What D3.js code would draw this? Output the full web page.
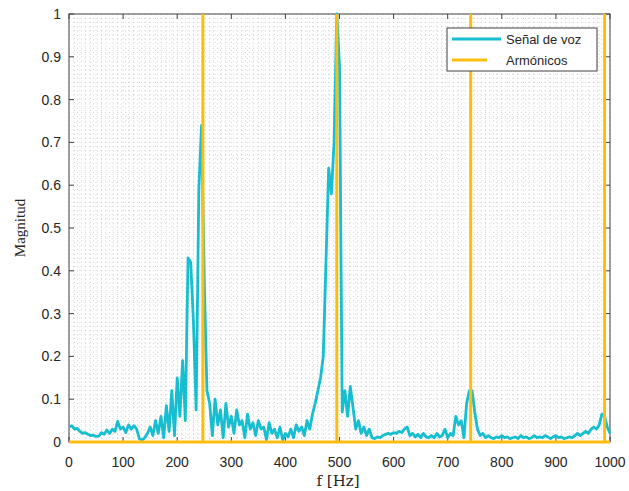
<!DOCTYPE html>
<html>
<head>
<meta charset="utf-8">
<script src="https://cdn.jsdelivr.net/npm/d3@7"></script>
<style>
  body { margin: 0; background: #fff; }
  text { font-family: "Liberation Sans", Arial, sans-serif; }
</style>
</head>
<body>
<div id="viz"></div>
<script>
// spectrum, sampled every 5 Hz from 0 to 1000 Hz
var freqStep = 5
var mag = [
  .035,.038,.03,.032,.025,.02,.022,.018,.015,.016,
  .013,.014,.022,.018,.028,.02,.03,.025,.048,.03,
  .035,.022,.04,.03,.038,.03,.008,.004,.01,.02,
  .035,.015,.05,.02,.06,.01,.085,.025,.12,.015,
  .15,.06,.19,.05,.43,.42,.28,.075,.59,.74,
  .38,.12,.09,.015,.1,.04,.075,.01,.09,.035,
  .06,.02,.075,.04,.05,.01,.065,.03,.045,.015,
  .05,.03,.035,.005,.045,.02,.03,.01,.035,.005,
  .02,.012,.03,.01,.04,.025,.035,.015,.05,.03,
  .065,.09,.12,.15,.2,.42,.64,.58,.7,1.0,
  .88,.07,.12,.06,.13,.08,.03,.05,.02,.035,
  .015,.03,.01,.008,.012,.01,.015,.018,.02,.018,
  .022,.02,.025,.022,.03,.035,.015,.02,.012,.018,
  .01,.02,.012,.01,.015,.01,.02,.012,.015,.03,
  .01,.02,.015,.06,.04,.05,.01,.09,.12,.12,
  .07,.03,.015,.02,.01,.015,.01,.008,.012,.01,
  .015,.01,.012,.008,.01,.012,.008,.015,.01,.012,
  .008,.01,.015,.01,.012,.01,.015,.012,.008,.012,
  .015,.01,.012,.008,.01,.012,.01,.015,.02,.015,
  .02,.025,.02,.03,.035,.03,.04,.065,.06,.035,
  .02
]
// harmonic frequencies (Hz)
var harmonics = [247.5, 495, 742.5, 990]
var xTicks = [0, 100, 200, 300, 400, 500, 600, 700, 800, 900, 1000]
var yTicks = [0, 0.1, 0.2, 0.3, 0.4, 0.5, 0.6, 0.7, 0.8, 0.9, 1]
var legendLabels = ["Señal de voz", "Armónicos"]

var w = 629
var h = 491
// plot box (note: "top" is taken by window.top)
var pL = 69, pR = 610, pT = 14, pB = 442
var cyan = "#17BECF"
var yellow = "#FDBD0F"
var axisColor = "#404040"

var x = d3.scaleLinear().domain([0, 1000]).range([pL, pR])
var y = d3.scaleLinear().domain([0, 1]).range([pB, pT])

var svg = d3.select("#viz").append("svg")
  .attr("width", w)
  .attr("height", h)

svg.append("defs").append("clipPath").attr("id", "clip")
  .append("rect")
  .attr("x", pL).attr("y", pT - 2)
  .attr("width", pR - pL + 2).attr("height", pB - pT + 4)

// dotted grid
var grid = svg.append("g")
grid.selectAll(".gx").data(d3.range(10, 1000, 10))
  .enter().append("line")
  .attr("x1", d => x(d)).attr("x2", d => x(d))
  .attr("y1", pT).attr("y2", pB)
  .attr("stroke", "#c4c4c4").attr("stroke-width", 0.7)
  .attr("stroke-dasharray", "1,3")
grid.selectAll(".gy").data(d3.range(1, 100).map(d => d / 100))
  .enter().append("line")
  .attr("x1", pL).attr("x2", pR)
  .attr("y1", d => y(d)).attr("y2", d => y(d))
  .attr("stroke", "#c4c4c4").attr("stroke-width", 0.7)
  .attr("stroke-dasharray", "1,3")

// axes box with inward ticks on all sides
svg.append("rect")
  .attr("x", pL).attr("y", pT)
  .attr("width", pR - pL).attr("height", pB - pT)
  .attr("fill", "none").attr("stroke", axisColor).attr("stroke-width", 1)

var ticks = svg.append("g").attr("stroke", axisColor).attr("stroke-width", 1)
xTicks.forEach(t => {
  ticks.append("line").attr("x1", x(t)).attr("x2", x(t)).attr("y1", pB).attr("y2", pB - 5)
  ticks.append("line").attr("x1", x(t)).attr("x2", x(t)).attr("y1", pT).attr("y2", pT + 5)
})
yTicks.forEach(t => {
  ticks.append("line").attr("x1", pL).attr("x2", pL + 5).attr("y1", y(t)).attr("y2", y(t))
  ticks.append("line").attr("x1", pR).attr("x2", pR - 5).attr("y1", y(t)).attr("y2", y(t))
})

svg.selectAll(".xl").data(xTicks).enter().append("text")
  .attr("x", d => x(d)).attr("y", 467)
  .attr("text-anchor", "middle")
  .attr("font-size", 14).attr("fill", "#262626")
  .text(d => d)

svg.selectAll(".yl").data(yTicks).enter().append("text")
  .attr("x", 61).attr("y", d => y(d) + 5)
  .attr("text-anchor", "end")
  .attr("font-size", 14).attr("fill", "#262626")
  .text(d => d)

svg.append("text")
  .attr("x", 338).attr("y", 486)
  .attr("text-anchor", "middle")
  .attr("font-size", 15).attr("fill", "#262626")
  .style("font-family", "'DejaVu Serif', 'Liberation Serif', serif")
  .text("f [Hz]")

svg.append("text")
  .attr("transform", "translate(25," + ((pT + pB) / 2) + ") rotate(-90)")
  .attr("text-anchor", "middle")
  .attr("font-size", 15).attr("fill", "#262626")
  .style("font-family", "'Liberation Serif', 'DejaVu Serif', serif")
  .text("Magnitud")

// signal
var line = d3.line()
  .x((d, i) => x(i * freqStep))
  .y(d => y(d))

var plot = svg.append("g").attr("clip-path", "url(#clip)")
plot.append("path")
  .datum(mag)
  .attr("d", line)
  .attr("fill", "none")
  .attr("stroke", cyan)
  .attr("stroke-width", 2.8)
  .attr("stroke-linejoin", "round")

// harmonic markers as a 0/1 series
var harm = [[0, 0]]
harmonics.forEach(f => { harm.push([f, 0], [f, 1], [f, 0]) })
harm.push([1000, 0])
plot.append("path")
  .datum(harm)
  .attr("d", d3.line().x(d => x(d[0])).y(d => y(d[1])))
  .attr("fill", "none")
  .attr("stroke", yellow)
  .attr("stroke-width", 3)

// legend
var lg = svg.append("g")
lg.append("rect")
  .attr("x", 447).attr("y", 28).attr("width", 150).attr("height", 43)
  .attr("fill", "#fff").attr("stroke", axisColor).attr("stroke-width", 1)
lg.append("line").attr("x1", 452).attr("x2", 501).attr("y1", 39).attr("y2", 39)
  .attr("stroke", cyan).attr("stroke-width", 3)
lg.append("line").attr("x1", 452).attr("x2", 487).attr("y1", 60).attr("y2", 60)
  .attr("stroke", yellow).attr("stroke-width", 3)
lg.selectAll(".lt").data(legendLabels).enter().append("text")
  .attr("x", 506).attr("y", (d, i) => 44 + i * 21)
  .attr("font-size", 13).attr("fill", "#262626")
  .text(d => d)
</script>
</body>
</html>
